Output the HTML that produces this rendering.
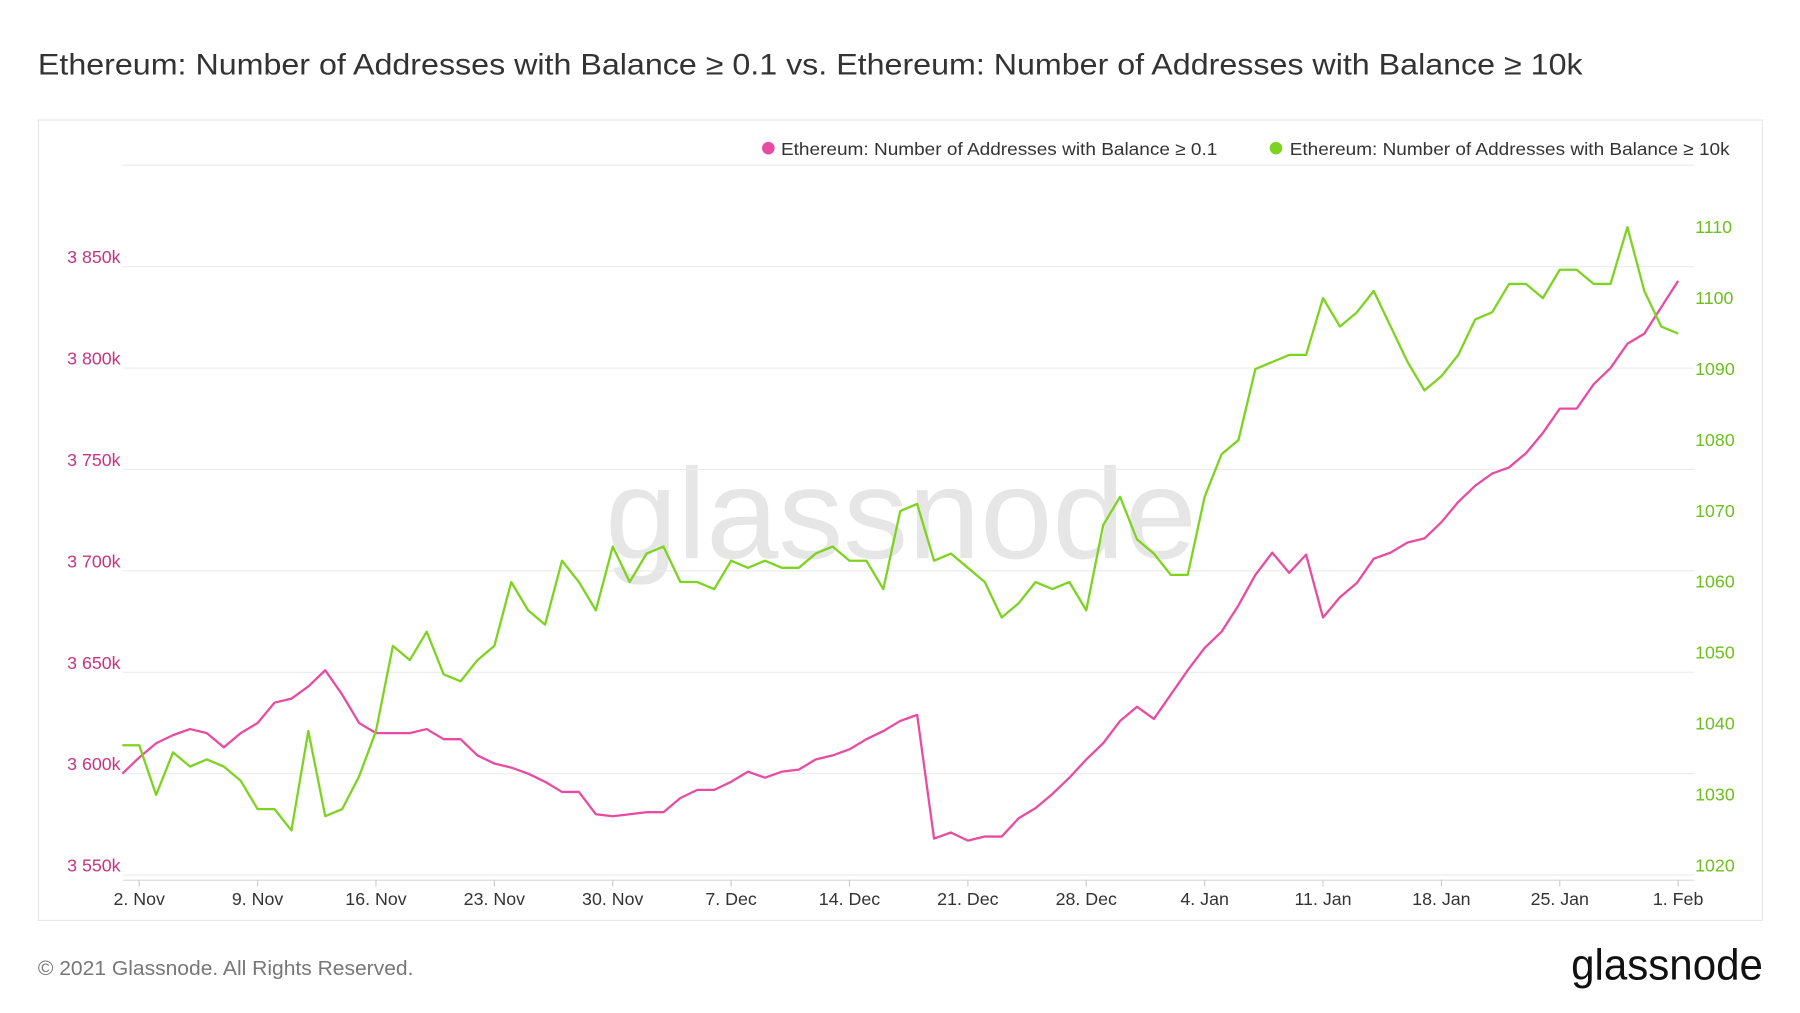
<!DOCTYPE html>
<html><head><meta charset="utf-8"><style>
html,body{margin:0;padding:0;background:#fff;}
svg{display:block;font-family:"Liberation Sans",sans-serif;}
</style></head><body>
<svg id="chart" width="1800" height="1013" viewBox="0 0 1567.3 882.1" preserveAspectRatio="none" xmlns="http://www.w3.org/2000/svg">
<text x="33" y="65" font-size="25.5" fill="#333" textLength="1345" lengthAdjust="spacingAndGlyphs">Ethereum: Number of Addresses with Balance ≥ 0.1 vs. Ethereum: Number of Addresses with Balance ≥ 10k</text>
<rect x="33.5" y="104.5" width="1501" height="697" fill="#fff" stroke="#e6e6e6"/>
<text x="527" y="486" font-size="112" fill="#e6e6e6" textLength="515" lengthAdjust="spacingAndGlyphs">glassnode</text>
<g id="grid"></g>
<g id="axes"></g>
<g id="series"></g>
<g>
<circle cx="669" cy="129" r="5.5" fill="#e84ca2"/>
<text x="680" y="135" font-size="15.5" fill="#333" textLength="380" lengthAdjust="spacingAndGlyphs">Ethereum: Number of Addresses with Balance ≥ 0.1</text>
<circle cx="1111" cy="129" r="5.5" fill="#7ed321"/>
<text x="1123" y="135" font-size="15.5" fill="#333" textLength="383" lengthAdjust="spacingAndGlyphs">Ethereum: Number of Addresses with Balance ≥ 10k</text>
</g>
<text x="33" y="849" font-size="17.5" fill="#777" textLength="327" lengthAdjust="spacingAndGlyphs">© 2021 Glassnode. All Rights Reserved.</text>
<text x="1368" y="853" font-size="38" fill="#111" textLength="167" lengthAdjust="spacingAndGlyphs">glassnode</text>
</svg>
<script>
const dateLabels = ["2. Nov","9. Nov","16. Nov","23. Nov","30. Nov","7. Dec","14. Dec","21. Dec","28. Dec","4. Jan","11. Jan","18. Jan","25. Jan","1. Feb"];
const leftTicks = [3550,3600,3650,3700,3750,3800,3850,3900];
const rightTicks = [1020,1030,1040,1050,1060,1070,1080,1090,1100,1110];
// daily values, 1 Nov -> 1 Feb
const balance01 = [3600,3608,3615,3619,3622,3620,3613,3620,3625,3635,3637,3643,3651,3639,3625,3620,3620,3620,3622,3617,3617,3609,3605,3603,3600,3596,3591,3591,3580,3579,3580,3581,3581,3588,3592,3592,3596,3601,3598,3601,3602,3607,3609,3612,3617,3621,3626,3629,3568,3571,3567,3569,3569,3578,3583,3590,3598,3607,3615,3626,3633,3627,3639,3651,3662,3670,3683,3698,3709,3699,3708,3677,3687,3694,3706,3709,3714,3716,3724,3734,3742,3748,3751,3758,3768,3780,3780,3792,3800,3812,3817,3830,3843];
const balance10k = [1037,1037,1030,1036,1034,1035,1034,1032,1028,1028,1025,1039,1027,1028,1032.6,1039,1051,1049,1053,1047,1046,1049,1051,1060,1056,1054,1063,1060,1056,1065,1060,1064,1065,1060,1060,1059,1063,1062,1063,1062,1062,1064,1065,1063,1063,1059,1070,1071,1063,1064,1062,1060,1055,1057,1060,1059,1060,1056,1068,1072,1066,1064,1061,1061,1072,1078,1080,1090,1091,1092,1092,1100,1096,1098,1101,1096,1091,1087,1089,1092,1097,1098,1102,1102,1100,1104,1104,1102,1102,1110,1101,1096,1095];

const NS="http://www.w3.org/2000/svg";
const x0=106.5, dayW=14.725;
const xDay = i => x0 + i*dayW;
const yLeft = v => 762 - (v-3550)*1.766;
const yRight = v => 754 - (v-1020)*6.18;
function mk(tag, attrs, parent){const e=document.createElementNS(NS,tag);for(const k in attrs)e.setAttribute(k,attrs[k]);parent.appendChild(e);return e;}
const grid=document.getElementById('grid'), axes=document.getElementById('axes'), series=document.getElementById('series');

leftTicks.forEach(v=>{
  const g=mk('line',{x1:107,x2:1475,y1:yLeft(v),y2:yLeft(v),stroke:'#ececec','stroke-width':1},grid);
  
  
  if(v<3900){
    const t=mk('text',{x:105,y:yLeft(v)-3,'font-size':15.5,fill:'#c8347f','text-anchor':'end'},axes);
    t.textContent=(v+'').replace(/^(\d)/,'$1 ')+'k';
    
    
  }
});
rightTicks.forEach(v=>{
  const t=mk('text',{x:1476,y:yRight(v)+5,'font-size':15.5,fill:'#6cbf1c'},axes);
  t.textContent=v;
  
  
});
const base=mk('line',{x1:107,x2:1475,y1:766.5,y2:766.5,stroke:'#ddd'},axes);


dateLabels.forEach((d,i)=>{
  const x=xDay(1+7*i);
  const tk=mk('line',{x1:x,x2:x,y1:766,y2:772,stroke:'#ccc'},axes);
  
  
  const t=mk('text',{x:x,y:788,'font-size':15.5,fill:'#333','text-anchor':'middle'},axes);
  t.textContent=d;
  
  
});
const p1=mk('polyline',{points:balance01.map((v,i)=>xDay(i)+','+yLeft(v)).join(' '),fill:'none',stroke:'#e84ca2','stroke-width':2,'stroke-linejoin':'round'},series);


const p2=mk('polyline',{points:balance10k.map((v,i)=>xDay(i)+','+yRight(v)).join(' '),fill:'none',stroke:'#7ed321','stroke-width':2,'stroke-linejoin':'round'},series);


</script>
</body></html>
